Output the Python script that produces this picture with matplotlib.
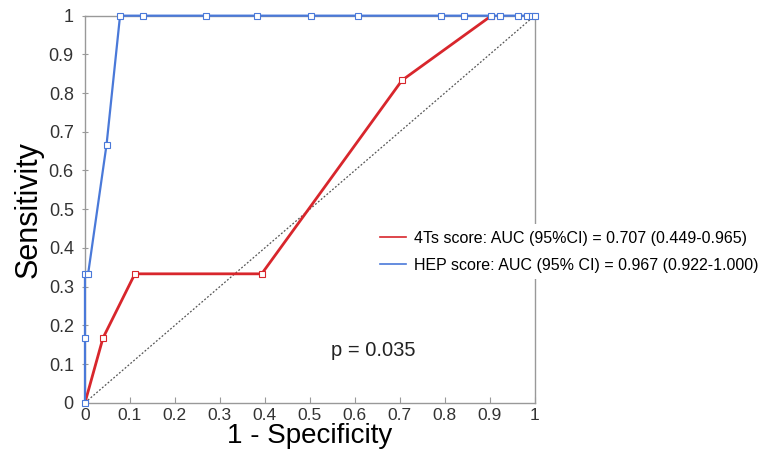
import matplotlib
matplotlib.use("Agg")
import matplotlib.pyplot as plt

plt.rcParams['font.family'] = ['Liberation Sans', 'DejaVu Sans']

# Data
hep_fpr = [0, 0, 0, 0.007, 0.048, 0.078, 0.129, 0.269, 0.382, 0.502, 0.607,
           0.791, 0.842, 0.904, 0.922, 0.964, 0.984, 0.993, 1.0]
hep_tpr = [0, 0.167, 0.333, 0.333, 0.667, 1, 1, 1, 1, 1, 1,
           1, 1, 1, 1, 1, 1, 1, 1]
t4_fpr = [0, 0.040, 0.111, 0.393, 0.705, 0.904]
t4_tpr = [0, 0.167, 0.333, 0.333, 0.833, 1.0]
diag = [0, 1]
ticks = [0, 0.1, 0.2, 0.3, 0.4, 0.5, 0.6, 0.7, 0.8, 0.9, 1]
tick_labels = ['0', '0.1', '0.2', '0.3', '0.4', '0.5', '0.6', '0.7', '0.8', '0.9', '1']
label_4ts = '4Ts score: AUC (95%CI) = 0.707 (0.449-0.965)'
label_hep = 'HEP score: AUC (95% CI) = 0.967 (0.922-1.000)'

RED = '#d8262c'
BLUE = '#4a79d9'

fig = plt.figure(figsize=(7.76, 4.57), dpi=100)
ax = fig.add_axes([0.1095, 0.1188, 0.5795, 0.8469])

ax.plot(diag, diag, linestyle=(0, (1.5, 1.5)), color='#555555', lw=0.9, zorder=1)
l1, = ax.plot(t4_fpr, t4_tpr, color=RED, lw=2.0, marker='s', ms=4,
              mfc='white', mec=RED, mew=0.8, zorder=3, label=label_4ts)
l2, = ax.plot(hep_fpr, hep_tpr, color=BLUE, lw=1.6, marker='s', ms=4,
              mfc='white', mec=BLUE, mew=0.8, zorder=4, label=label_hep, clip_on=False)

ax.set_xlim(0, 1)
ax.set_ylim(0, 1)
ax.set_xticks(ticks)
ax.set_xticklabels(tick_labels)
ax.set_yticks(ticks)
ax.set_yticklabels(tick_labels)
for s in ax.spines.values():
    s.set_color('#999999')
    s.set_linewidth(1.0)
ax.tick_params(axis='x', direction='in', length=4, color='#999999',
               labelsize=12.5, labelcolor='#333333', pad=4)
ax.tick_params(axis='y', direction='inout', length=4, color='#999999',
               labelsize=13, labelcolor='#333333', pad=6)

ax.set_xlabel('1 - Specificity', fontsize=20, labelpad=0)
ax.set_ylabel('Sensitivity', fontsize=22, labelpad=4)

ax.text(0.64, 0.136, 'p = 0.035', fontsize=14.5, color='#222222',
        ha='center', va='center', transform=ax.transAxes)

leg = ax.legend(handles=[l1, l2], loc='center left', bbox_to_anchor=(0.625, 0.39),
                frameon=True, fontsize=11.5, handlelength=1.6, handletextpad=0.5,
                labelspacing=0.75, borderpad=0.4)
leg.get_frame().set_edgecolor('none')
leg.get_frame().set_facecolor('white')
leg.get_frame().set_alpha(1)
for h in leg.legend_handles:
    h.set_marker('')
    h.set_linewidth(1.2)
leg.set_zorder(10)

fig.savefig('out.png', dpi=100)
